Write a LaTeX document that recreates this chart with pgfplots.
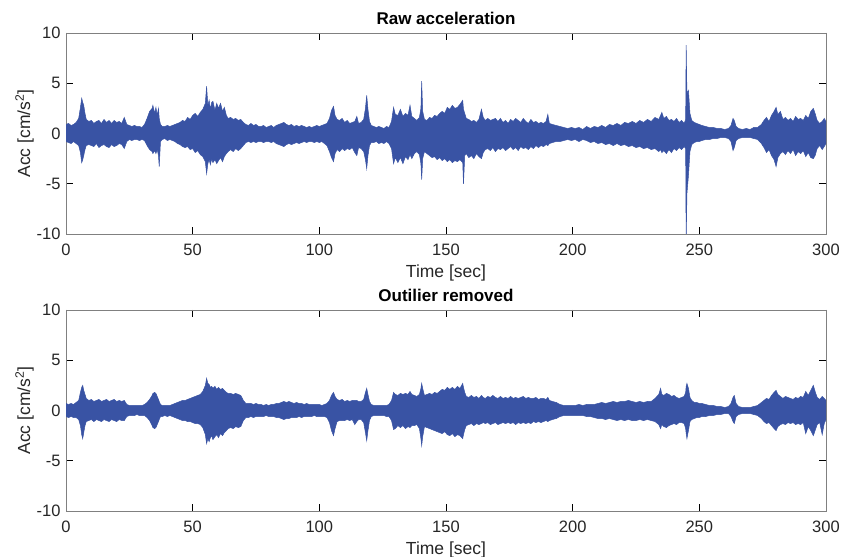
\documentclass[border=0pt]{standalone}
\usepackage{pgfplots}
\pgfplotsset{compat=1.18}
\usepackage{pgfplotstable}
\usepgfplotslibrary{fillbetween}
\usepackage{fontspec}
\setmainfont{Liberation Sans}
\definecolor{sig}{RGB}{57,83,164}
\definecolor{axgray}{RGB}{128,128,128}
\definecolor{txt}{RGB}{38,38,38}
\pgfplotstableread{
t tu tl bu bl
0 0.9 -0.8 0.7 -0.6
1 1.0 -0.9 0.6 -0.7
2 0.8 -1.0 0.7 -0.6
3 0.9 -0.8 0.6 -0.7
4 1.1 -1.0 0.8 -0.7
5 1.5 -1.2 1.0 -0.9
5.7 2.6 -1.9 1.8 -1.5
6.2 3.5 -2.9 2.3 -2.4
6.6 3.1 -2.6 2.5 -2.8
7 2.8 -2.2 2.0 -2.2
7.5 2.0 -1.6 1.6 -1.5
8 1.4 -1.2 1.2 -1.1
9 1.2 -1.1 1.0 -1.0
10 1.3 -1.2 1.1 -0.9
11 1.0 -1.3 0.9 -1.1
12 1.2 -1.0 1.0 -0.9
13 1.3 -1.4 1.1 -1.0
14 1.0 -1.2 0.9 -1.1
15 1.4 -1.1 1.0 -0.9
16 1.1 -1.3 1.1 -1.0
17 1.3 -1.4 0.9 -1.1
18 1.0 -1.1 1.0 -0.9
19 1.3 -1.3 1.1 -1.0
20 1.1 -1.2 0.9 -1.1
21 1.2 -1.0 1.0 -0.9
22 1.0 -1.1 0.9 -1.0
23 1.6 -1.5 1.0 -1.0
24 0.9 -0.8 0.6 -0.6
25 0.8 -0.6 0.5 -0.5
26 0.7 -0.7 0.5 -0.5
27 0.8 -0.6 0.5 -0.5
28 0.7 -0.6 0.5 -0.4
29 0.7 -0.7 0.5 -0.5
30 0.6 -0.6 0.5 -0.5
31 0.9 -0.7 0.6 -0.5
32 1.5 -1.2 0.8 -0.7
33 2.2 -1.6 1.1 -1.0
34 2.5 -1.8 1.5 -1.5
34.3 2.8 -2.0 1.7 -1.7
35 2.0 -1.7 1.8 -1.8
35.5 2.6 -2.0 1.7 -1.7
36 1.8 -1.6 1.4 -1.4
36.5 2.5 -2.2 1.1 -1.1
36.8 1.5 -3.3 0.9 -0.9
37.3 0.9 -0.8 0.6 -0.6
38 0.7 -0.6 0.5 -0.6
39 0.7 -0.5 0.5 -0.5
40 0.8 -0.7 0.5 -0.6
41 0.7 -0.6 0.5 -0.5
42 0.8 -0.7 0.6 -0.6
43 0.9 -0.8 0.7 -0.7
44 1.0 -1.0 0.8 -0.8
45 1.1 -1.1 0.9 -0.9
46 1.3 -1.3 1.0 -1.0
47 1.2 -1.4 1.0 -1.0
48 1.6 -1.3 1.1 -1.1
49 1.4 -1.6 1.2 -1.1
50 1.8 -1.5 1.3 -1.2
51 2.0 -1.9 1.4 -1.3
52 1.7 -1.7 1.5 -1.3
53 2.1 -2.1 1.6 -1.4
54 2.4 -2.3 1.9 -1.7
55 3.0 -2.8 2.5 -2.4
55.5 4.7 -4.0 3.2 -3.3
56 2.8 -3.0 2.7 -2.8
56.5 3.3 -2.6 2.6 -3.1
57 2.4 -3.1 2.3 -2.7
57.5 3.1 -2.5 2.4 -2.5
58 3.2 -2.9 2.2 -2.9
58.8 2.3 -2.6 2.4 -2.6
59.5 3.0 -3.0 2.1 -2.4
60.2 2.5 -2.7 2.3 -2.7
61 3.0 -2.4 2.1 -2.3
61.8 2.2 -2.8 2.2 -2.5
62.5 2.6 -2.3 2.0 -2.2
63.3 1.8 -2.0 1.8 -2.0
64 1.5 -1.8 1.7 -1.8
65 1.6 -1.6 1.7 -1.7
66 1.4 -1.8 1.6 -1.8
67 1.5 -1.5 1.7 -1.6
68 1.3 -1.7 1.6 -1.7
69 1.4 -1.5 1.5 -1.6
70 1.1 -1.2 1.0 -1.0
71 0.9 -0.9 0.7 -0.7
72 0.8 -0.8 0.7 -0.7
73 1.0 -0.9 0.7 -0.6
74 0.8 -0.8 0.6 -0.7
75 0.9 -0.9 0.7 -0.6
76 0.7 -0.8 0.6 -0.6
77 0.7 -0.8 0.6 -0.6
78 0.8 -0.9 0.5 -0.6
79 0.6 -0.8 0.6 -0.5
80 0.7 -0.8 0.5 -0.6
81 0.8 -0.9 0.6 -0.6
82 0.6 -0.8 0.6 -0.6
83 0.8 -1.0 0.7 -0.7
84 0.9 -1.1 0.7 -0.7
85 1.0 -1.2 0.8 -0.8
86 1.1 -1.3 0.9 -0.9
87 0.9 -1.1 0.8 -0.8
88 0.8 -1.0 0.9 -0.8
89 0.9 -1.1 0.8 -0.7
90 0.7 -1.0 0.7 -0.7
91 0.8 -0.9 0.8 -0.7
92 0.7 -1.0 0.7 -0.6
93 0.8 -0.9 0.7 -0.7
94 0.7 -0.8 0.6 -0.6
95 0.6 -0.9 0.7 -0.6
96 0.7 -0.8 0.6 -0.6
97 0.6 -0.8 0.6 -0.6
98 0.7 -0.9 0.6 -0.5
99 0.8 -0.8 0.6 -0.6
100 0.7 -0.9 0.6 -0.6
101 0.8 -0.8 0.5 -0.6
102 0.9 -1.0 0.6 -0.6
103 1.0 -1.2 0.7 -0.7
104 1.5 -1.8 1.0 -1.2
104.8 2.3 -2.4 1.5 -2.0
105.6 2.7 -2.8 1.8 -2.5
106.2 1.8 -2.0 1.4 -1.8
107 1.4 -1.6 1.1 -1.1
108 1.3 -1.8 1.0 -1.0
109 1.5 -1.5 1.1 -1.0
110 1.1 -1.7 0.9 -1.0
111 1.3 -1.5 1.0 -0.9
112 1.0 -1.6 0.9 -1.0
113 1.1 -1.4 1.0 -0.9
114 1.2 -1.9 1.0 -1.4
114.8 1.7 -2.2 1.0 -1.1
115.5 1.0 -1.4 0.9 -0.9
116.5 1.1 -1.5 0.9 -0.9
117.5 1.4 -1.8 1.1 -1.2
118.2 2.5 -2.6 1.8 -2.2
118.7 3.8 -3.5 2.2 -3.0
119.2 2.4 -2.2 1.6 -2.0
119.8 1.2 -1.2 0.9 -1.0
120.5 0.8 -0.9 0.6 -0.6
121.5 0.7 -0.9 0.5 -0.5
122.5 0.6 -0.8 0.5 -0.5
123.5 0.7 -1.0 0.5 -0.5
124.5 0.6 -0.9 0.5 -0.5
125.5 0.5 -1.0 0.5 -0.5
126.5 0.7 -0.8 0.5 -0.6
127.5 0.6 -1.0 0.6 -0.6
128.5 1.2 -1.5 1.0 -1.0
129.3 2.6 -3.0 1.8 -1.9
130 1.9 -2.4 1.6 -1.8
131 1.8 -2.9 1.5 -1.5
132 2.4 -2.4 1.7 -1.7
133 1.7 -3.0 1.6 -1.5
134 2.0 -2.3 1.7 -1.8
135 1.8 -2.6 1.6 -1.6
135.8 2.8 -2.1 1.9 -1.7
136.5 1.7 -2.5 1.6 -1.5
137.5 1.5 -2.0 1.5 -1.5
138.5 1.3 -1.8 1.4 -1.4
139.5 1.6 -2.1 1.6 -1.8
140.1 2.5 -3.0 2.2 -2.8
140.4 5.2 -4.6 2.7 -3.5
140.8 2.2 -2.5 2.2 -2.6
141.5 1.4 -1.8 1.5 -1.6
142.5 1.3 -2.0 1.6 -1.7
143.5 1.6 -2.2 1.7 -1.8
144.5 1.5 -2.4 1.6 -1.9
145.5 1.8 -2.3 1.8 -2.0
146.5 1.7 -2.6 1.7 -2.1
147.5 2.0 -2.4 1.9 -2.2
148.5 2.2 -2.7 2.1 -2.3
149.5 2.0 -2.5 2.0 -2.1
150.5 2.6 -2.8 2.3 -2.4
151.5 2.4 -2.6 2.1 -2.5
152.5 2.8 -2.9 2.3 -2.3
153.5 2.5 -2.7 2.1 -2.6
154.5 2.6 -2.8 2.4 -2.4
155.5 2.9 -2.6 2.2 -2.5
156.6 3.3 -2.9 2.7 -2.8
156.9 2.4 -5.0 2.3 -2.4
157.4 2.0 -2.2 1.8 -1.9
158 1.5 -2.0 1.4 -1.5
159 1.4 -2.4 1.3 -1.4
160 1.2 -2.2 1.5 -1.3
161 1.3 -2.5 1.3 -1.5
162 1.1 -2.0 1.4 -1.3
163 1.4 -2.3 1.2 -1.4
164 2.4 -2.5 1.5 -1.3
164.7 1.6 -1.9 1.3 -1.2
165.5 1.3 -1.6 1.2 -1.3
166.5 1.5 -1.5 1.4 -1.2
167.5 1.3 -1.7 1.3 -1.4
168.5 1.4 -1.4 1.5 -1.3
169.5 1.5 -1.8 1.3 -1.2
170.5 1.2 -1.5 1.2 -1.4
171.5 1.5 -1.6 1.4 -1.3
172.5 1.1 -1.4 1.2 -1.2
173.5 1.3 -1.7 1.3 -1.3
174.5 1.0 -1.5 1.2 -1.2
175.5 1.4 -1.3 1.4 -1.3
176.5 1.2 -1.6 1.2 -1.2
177.5 1.5 -1.4 1.3 -1.4
178.5 1.3 -1.7 1.2 -1.2
179.5 1.1 -1.3 1.3 -1.3
180.5 1.5 -1.5 1.4 -1.2
181.5 1.2 -1.4 1.2 -1.3
182.5 1.0 -1.6 1.3 -1.2
183.5 1.4 -1.3 1.2 -1.3
184.5 1.1 -1.5 1.2 -1.1
185.5 1.2 -1.2 1.3 -1.2
186.5 1.0 -1.4 1.1 -1.1
187.5 1.1 -1.2 1.2 -1.2
188.5 1.0 -1.3 1.2 -1.1
189.5 1.2 -1.1 1.1 -1.0
190.2 1.9 -1.2 1.3 -1.1
190.8 1.0 -1.0 1.0 -1.0
192 0.9 -0.9 0.9 -0.9
193.5 0.8 -0.8 0.8 -0.8
195 0.7 -0.8 0.6 -0.6
196.5 0.6 -0.7 0.5 -0.5
198 0.5 -0.6 0.5 -0.5
199.5 0.6 -0.7 0.5 -0.5
201 0.5 -0.6 0.5 -0.5
202.5 0.6 -0.8 0.6 -0.5
204 0.4 -0.6 0.5 -0.5
205.5 0.7 -0.7 0.6 -0.6
207 0.5 -0.9 0.6 -0.6
208.5 0.7 -0.8 0.6 -0.7
210 0.6 -1.0 0.7 -0.8
211.5 0.8 -0.9 0.8 -0.8
213 0.6 -1.1 0.7 -0.9
214.5 0.9 -1.0 0.8 -0.8
216 0.8 -1.2 0.9 -0.9
217.5 1.0 -1.0 0.8 -1.0
219 0.8 -1.2 0.9 -0.9
220.5 1.1 -1.1 0.9 -1.0
222 1.0 -1.3 1.0 -0.9
223.5 1.2 -1.2 0.9 -1.0
225 1.0 -1.4 0.8 -1.0
226.5 1.3 -1.3 0.9 -0.9
228 1.1 -1.5 0.8 -1.0
229.5 1.4 -1.4 0.9 -0.9
231 1.2 -1.6 0.9 -1.0
232.5 1.6 -1.5 1.2 -1.1
234 1.4 -1.8 1.6 -1.4
234.7 1.8 -1.6 2.2 -1.8
235.2 2.1 -1.9 1.6 -1.4
236 1.5 -1.7 1.5 -1.6
237 1.7 -2.0 1.7 -1.7
238 1.3 -1.6 1.6 -1.5
239 1.4 -1.9 1.4 -1.4
240 1.2 -1.5 1.5 -1.3
241 1.5 -1.7 1.3 -1.4
242 1.1 -1.4 1.2 -1.2
243 1.3 -1.6 1.3 -1.2
244 1.0 -1.3 1.4 -1.3
244.6 1.4 -1.5 1.8 -1.8
244.8 8.8 -11 2.4 -2.3
245.1 4.0 -6.0 2.7 -2.8
245.7 4.3 -4.2 2.2 -2.0
246.3 2.0 -1.8 1.3 -1.1
247 1.3 -1.1 1.0 -0.9
248 1.1 -0.9 0.8 -0.8
249 1.0 -0.8 0.8 -0.7
250 0.9 -0.8 0.7 -0.7
251 0.8 -0.7 0.7 -0.6
252.5 0.7 -0.6 0.6 -0.6
254 0.6 -0.6 0.5 -0.5
255.5 0.6 -0.5 0.5 -0.5
257 0.5 -0.5 0.4 -0.4
258.5 0.5 -0.4 0.4 -0.4
260 0.4 -0.4 0.3 -0.3
261.5 0.5 -0.5 0.4 -0.3
262.5 0.8 -0.8 0.7 -0.6
263.3 1.5 -1.7 1.3 -1.1
263.8 1.3 -1.4 1.5 -1.3
264.5 0.7 -0.7 0.7 -0.6
265.5 0.5 -0.5 0.4 -0.4
267 0.4 -0.4 0.3 -0.3
268.5 0.5 -0.4 0.3 -0.3
270 0.4 -0.4 0.3 -0.3
271.5 0.6 -0.5 0.4 -0.4
273 0.6 -0.6 0.5 -0.5
274.5 0.9 -1.0 0.8 -0.8
275.5 1.3 -1.4 1.0 -1.1
276.5 1.6 -1.9 1.2 -1.3
277.5 1.2 -1.6 1.1 -1.2
278.5 1.8 -2.2 1.5 -1.5
279.5 2.2 -2.6 1.8 -1.8
280.3 2.6 -3.3 2.0 -2.0
281 1.9 -2.4 1.6 -1.6
282 2.2 -2.0 1.4 -1.4
283 1.4 -1.8 1.2 -1.3
284 1.6 -2.1 1.4 -1.4
285 1.3 -1.7 1.3 -1.2
286 1.5 -2.0 1.2 -1.3
287 1.2 -1.6 1.1 -1.2
288 1.7 -2.2 1.3 -1.4
289 1.4 -1.8 1.2 -1.3
290 1.5 -2.0 1.4 -1.4
291 1.3 -1.7 1.3 -1.2
292 1.8 -2.3 1.9 -2.3
293 1.5 -1.9 1.5 -1.6
294 2.2 -2.4 2.0 -2.0
295 2.5 -2.5 2.5 -2.5
295.7 2.0 -2.2 1.9 -2.0
296.5 1.3 -1.5 1.3 -1.4
297.5 1.0 -1.2 1.1 -1.2
298.5 1.2 -1.6 1.4 -2.4
299.3 1.5 -1.3 1.2 -1.3
300 1.2 -1.0 1.0 -0.9
}\acc

\pgfplotsset{
  myax/.style={
    width=760pt, height=201pt, scale only axis,
    xmin=0, xmax=300, ymin=-10, ymax=10,
    xtick={0,50,...,300}, ytick={-10,-5,0,5,10},
    tick align=inside, major tick length=7pt,
    axis line style={axgray, line width=0.7pt},
    every tick/.style={black, line width=0.7pt},
    tick label style={font=\fontsize{16.5}{18}\selectfont, color=txt},
    label style={font=\fontsize{17.5}{20}\selectfont, color=txt},
    title style={font=\bfseries\fontsize{17}{19}\selectfont, yshift=-1pt},
    xticklabel style={yshift=-6pt},
    yticklabel style={xshift=-2pt},
    /pgf/number format/assume math mode=true,
    xlabel={Time [sec]},
    ylabel={Acc [cm/s\textsuperscript{2}]},
    xlabel style={yshift=-3pt},
    ylabel style={yshift=-4pt},
  }
}

\begin{document}
\begin{tikzpicture}
\begin{axis}[myax, at={(66pt,323pt)}, anchor=south west, title={Raw acceleration}]
\addplot[sig, line width=0.5pt, name path=A] table[x=t, y=tu] {\acc};
\addplot[sig, line width=0.5pt, name path=B] table[x=t, y=tl] {\acc};
\addplot[fill=sig, draw=none] fill between[of=A and B];
\end{axis}
\begin{axis}[myax, at={(66pt,46pt)}, anchor=south west, title={Outilier removed}]
\addplot[sig, line width=0.5pt, name path=C] table[x=t, y=bu] {\acc};
\addplot[sig, line width=0.5pt, name path=D] table[x=t, y=bl] {\acc};
\addplot[fill=sig, draw=none] fill between[of=C and D];
\end{axis}
\pgfresetboundingbox
\path[use as bounding box] (0pt,0pt) rectangle (841pt,557pt);
\end{tikzpicture}
\end{document}
